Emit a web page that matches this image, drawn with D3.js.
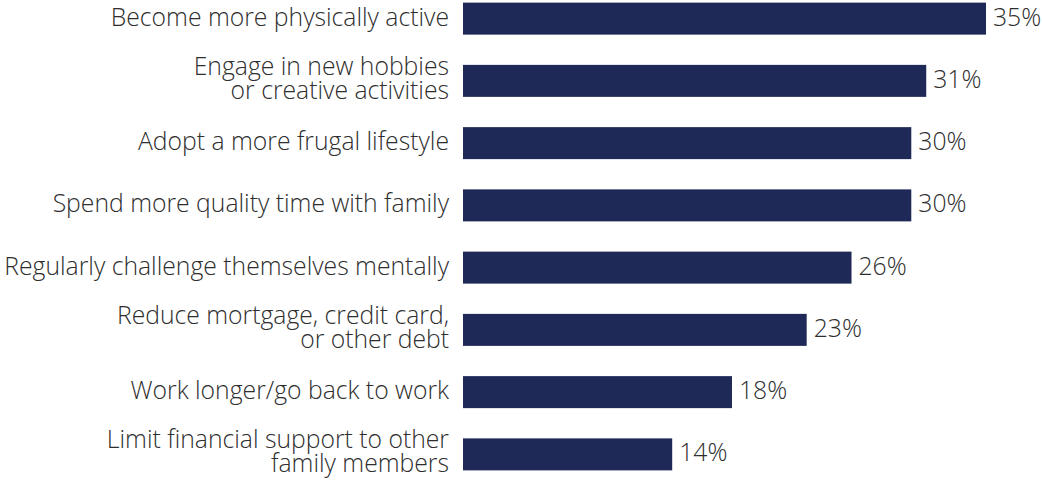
<!DOCTYPE html>
<html>
<head>
<meta charset="utf-8">
<script src="https://cdn.jsdelivr.net/npm/d3@7"></script>
<style>
  html, body { margin: 0; padding: 0; background: #fff; }
  svg { display: block; }
  text { font-family: "Open Sans", Lato, sans-serif; font-weight: 300; fill: #2e2e2e; }
</style>
</head>
<body>
<svg id="chart" width="1042" height="481"></svg>
<script>
// Share of respondents planning each change
const categories = [
  ["Become more physically active"],
  ["Engage in new hobbies", "or creative activities"],
  ["Adopt a more frugal lifestyle"],
  ["Spend more quality time with family"],
  ["Regularly challenge themselves mentally"],
  ["Reduce mortgage, credit card,", "or other debt"],
  ["Work longer/go back to work"],
  ["Limit financial support to other", "family members"]
];
const values = [35, 31, 30, 30, 26, 23, 18, 14];
const valueLabels = ["35%", "31%", "30%", "30%", "26%", "23%", "18%", "14%"];

const svg = d3.select("#chart");
const barLeft = 463;
const labelGap = 14;
const labelAreaWidth = 445;

const x = d3.scaleLinear().domain([0, 35]).range([barLeft, 986]);
const y = d3.scaleBand()
  .domain(d3.range(categories.length))
  .range([-12.5, 485.5])
  .paddingInner(0.486)
  .paddingOuter(0.243);

// Size the category font so the longest line fills the label column
const probe = svg.append("text").attr("font-size", 20).text(categories[4][0]);
const probeWidth = probe.node().getComputedTextLength();
probe.remove();
const fontSize = 20 * labelAreaWidth / probeWidth;
const lineHeight = 24;

const rows = svg.selectAll("g.row")
  .data(values)
  .join("g")
  .attr("class", "row");

rows.append("rect")
  .attr("x", x(0))
  .attr("y", (d, i) => y(i))
  .attr("width", d => x(d) - x(0))
  .attr("height", y.bandwidth())
  .attr("fill", "#1f2957");

rows.append("text")
  .attr("x", d => x(d) + 7)
  .attr("y", (d, i) => y(i) + y.bandwidth() / 2 + 7)
  .attr("font-size", fontSize)
  .text((d, i) => valueLabels[i]);

rows.each(function(d, i) {
  const lines = categories[i];
  const cy = y(i) + y.bandwidth() / 2;
  const t = d3.select(this).append("text")
    .attr("text-anchor", "end")
    .attr("font-size", fontSize);
  lines.forEach((ln, k) => {
    const base = lines.length === 1 ? cy + 7 : cy - 6 + k * lineHeight;
    t.append("tspan")
      .attr("x", barLeft - labelGap)
      .attr("y", base)
      .text(ln);
  });
});
</script>
</body>
</html>
